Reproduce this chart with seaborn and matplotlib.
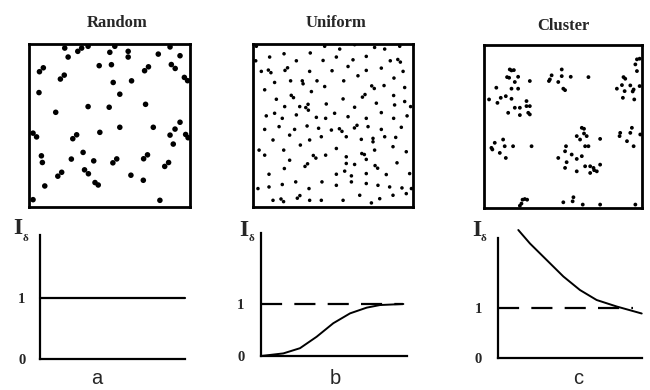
import matplotlib
matplotlib.use("Agg")
import matplotlib.pyplot as plt
import seaborn as sns
import pandas as pd

# ---------------- data ----------------
panel_titles = ["Random", "Uniform", "Cluster"]
panel_letters = ["a", "b", "c"]
index_label = "I"
index_sub = "δ"
tick_values = [0, 1]
tick_labels = ["0", "1"]

random_x = [22.2, 30.3, 32.7, 36.7, 53.3, 87.6, 24.3, 50.2, 61.6, 61.6, 80.3, 93.8,
            6.5, 8.9, 43.6, 51.2, 71.8, 74.2, 88.4, 90.8, 19.5, 21.9, 52.3, 63.7,
            96.5, 98.5, 6.2, 56.4, 36.7, 49.8, 72.4, 16.6, 2.5, 4.7, 44.0, 56.4,
            77.2, 93.8, 90.7, 87.6, 97.3, 98.8, 27.2, 29.6, 89.6, 33.6, 7.7, 8.3,
            26.3, 40.2, 52.1, 54.5, 71.2, 73.6, 84.3, 86.7, 17.9, 20.3, 34.5, 36.9,
            63.3, 71.0, 41.0, 43.0, 9.8, 2.5, 81.3]
random_y = [97.5, 95.5, 97.5, 98.6, 98.6, 98.2, 92.0, 94.9, 95.5, 92.0, 93.8, 92.8,
            83.0, 85.4, 86.7, 87.3, 83.6, 86.0, 87.4, 85.0, 78.5, 80.9, 76.4, 77.4,
            79.5, 77.5, 70.2, 69.2, 61.6, 61.2, 63.0, 58.1, 45.3, 43.0, 45.8, 48.9,
            48.9, 52.0, 47.8, 44.1, 44.5, 42.5, 41.9, 44.3, 38.6, 33.5, 31.4, 27.3,
            29.4, 28.3, 27.1, 29.5, 29.6, 32.0, 24.9, 27.3, 18.9, 21.3, 22.8, 20.4,
            19.5, 16.4, 15.0, 13.5, 12.9, 4.5, 4.1]

uniform_x = [2.1, 44.8, 54.2, 63.5, 76.0, 82.3, 91.7,
             10.4, 19.4, 35.8, 27.1, 43.8, 52.1, 62.5, 70.8, 85.8, 90.5, 92.1, 1.7,
             5.2, 9.6, 11.2, 20.0, 21.6, 35.4, 49.4, 59.4, 70.8, 80.2, 93.8,
             13.5, 23.5, 30.8, 31.3, 40.0, 44.8, 56.7, 65.6, 74.2, 75.8, 81.9, 88.1, 94.8,
             7.3, 23.9, 25.3, 36.5, 14.6, 56.3, 68.4, 70.0, 87.9,
             34.4, 19.8, 29.2, 45.8, 33.0, 34.6, 63.5, 77.1, 88.5, 94.8, 98.5,
             8.3, 13.5, 18.3, 27.1, 39.6, 45.4, 51.0, 59.4, 70.8, 80.2, 87.9, 96.3,
             7.3, 16.3, 26.0, 33.8, 41.0, 49.0, 54.0, 55.6, 63.4, 65.0, 71.9, 80.2, 92.7,
             12.5, 22.9, 35.4, 42.7, 58.3, 67.7, 75.0, 75.0, 82.3, 89.2,
             3.8, 19.2, 29.6, 52.1, 37.7, 39.3, 45.4, 58.3, 68.0, 69.6, 76.0, 87.5, 95.8,
             7.3, 22.9, 32.5, 34.1, 58.3, 63.5, 70.8, 76.3, 77.9, 90.0,
             10.0, 19.6, 52.1, 57.3, 61.5, 70.8, 83.3, 97.9,
             3.1, 10.0, 18.3, 26.7, 35.0, 43.1, 52.1, 61.5, 70.8, 78.1, 85.4, 93.1, 99.0,
             12.5, 17.5, 19.1, 27.7, 29.3, 35.4, 42.7, 56.3, 66.7, 74.0, 79.2, 87.5, 95.8]
uniform_y = [98.6, 98.6, 96.9, 99.6, 97.9, 96.9, 98.6,
             92.0, 94.0, 94.5, 89.7, 89.9, 92.0, 90.3, 92.4, 89.7, 90.5, 88.9, 89.7,
             83.2, 84.0, 82.4, 83.8, 85.4, 83.2, 83.6, 86.2, 83.8, 85.2, 83.2,
             76.4, 77.4, 77.4, 75.6, 77.4, 73.9, 77.4, 80.5, 74.3, 72.7, 74.5, 79.1, 73.3,
             71.9, 68.5, 67.1, 70.8, 66.1, 66.3, 67.4, 69.0, 68.4,
             63.0, 61.6, 61.6, 63.2, 61.0, 59.4, 61.2, 63.7, 62.6, 64.7, 61.6,
             55.9, 57.5, 54.4, 56.5, 55.0, 54.4, 57.5, 55.4, 54.4, 57.9, 54.4, 55.9,
             47.6, 49.3, 47.6, 49.7, 48.3, 47.2, 48.0, 46.4, 48.5, 50.1, 49.3, 47.6, 48.9,
             41.1, 44.1, 41.1, 43.1, 43.1, 41.5, 42.1, 40.0, 43.1, 42.7,
             34.9, 34.9, 38.0, 35.9, 31.6, 30.0, 31.8, 30.8, 32.8, 32.2, 34.9, 37.0, 33.9,
             31.8, 28.7, 24.9, 26.5, 26.7, 26.1, 29.2, 25.4, 23.8, 27.1,
             20.1, 23.6, 20.1, 22.0, 19.1, 20.5, 19.9, 20.5,
             11.3, 12.3, 13.8, 15.4, 11.3, 15.4, 13.3, 15.4, 14.4, 13.3, 12.3, 11.7, 11.3,
             4.1, 4.9, 3.3, 5.4, 7.0, 4.1, 4.1, 4.1, 7.2, 2.5, 5.1, 7.2, 8.2]

cluster_x = [16.3, 17.4, 18.9, 14.6, 15.9, 21.6, 19.5, 29.0, 7.8, 17.4, 21.6, 13.8,
             10.6, 17.4, 26.9, 29.0, 26.9, 22.7, 19.5, 15.3, 22.7, 28.0, 29.0, 8.5, 3.2,
             41.1, 41.7, 42.8, 49.2, 49.2, 47.0, 50.2, 51.3, 54.9, 66.1,
             96.8, 98.5, 95.8, 96.8, 88.3, 89.4, 87.3, 92.6, 94.7, 94.1, 89.0, 87.9,
             95.1, 98.5, 84.1,
             93.6, 92.6, 98.9, 86.2, 85.8, 90.5, 94.7,
             61.9, 63.3, 58.7, 63.3, 65.0, 60.8, 66.1, 64.0, 73.5, 51.9, 51.3, 47.0,
             55.5, 58.7, 61.9, 52.3, 51.3, 64.0, 67.2, 69.3, 73.5, 71.4, 69.7, 67.2, 58.7,
             4.7, 5.3, 6.8, 12.1, 13.1, 18.4, 10.0, 13.8, 30.1,
             24.4, 25.8, 27.3, 23.7, 22.7, 56.6, 56.1, 50.2, 62.5, 73.5, 95.8]
cluster_y = [85.0, 84.4, 84.6, 80.3, 79.9, 80.5, 77.3, 77.9, 73.8, 73.2, 73.2, 68.6,
             67.6, 67.0, 65.6, 62.5, 62.5, 61.5, 61.5, 58.4, 57.0, 58.4, 57.4, 64.5, 66.6,
             77.9, 78.9, 81.4, 85.0, 80.9, 77.3, 73.2, 72.3, 80.5, 80.3,
             91.2, 91.6, 88.1, 84.0, 80.3, 79.3, 75.4, 75.2, 72.7, 71.5, 71.7, 67.6,
             66.6, 74.8, 73.2,
             49.2, 46.1, 45.1, 46.1, 44.1, 41.0, 37.9,
             49.2, 48.6, 44.1, 45.7, 44.1, 42.0, 37.9, 37.9, 42.4, 37.9, 34.8, 30.7,
             32.8, 30.1, 31.8, 28.1, 24.6, 25.6, 25.6, 24.6, 26.6, 22.5, 23.2, 21.5, 22.5,
             36.9, 35.9, 40.0, 42.0, 37.9, 37.9, 33.8, 30.7, 37.9,
             5.1, 5.5, 5.1, 2.7, 1.4, 6.6, 4.1, 3.5, 2.1, 2.1, 2.1]

# index curves (distance fraction vs I_delta)
a_line_x = [0.0, 1.0]
a_line_y = [1.0, 1.0]
b_curve_x = [0.0, 0.153, 0.267, 0.381, 0.495, 0.61, 0.724, 0.815, 0.975]
b_curve_y = [0.0, 0.05, 0.15, 0.37, 0.63, 0.82, 0.93, 0.98, 1.0]
b_ref_x = [0.0, 0.975]
b_ref_y = [1.0, 1.0]
c_curve_x = [0.141, 0.222, 0.338, 0.454, 0.569, 0.685, 0.824, 0.998]
c_curve_y = [2.56, 2.29, 1.96, 1.63, 1.36, 1.16, 1.03, 0.89]
c_ref_x = [0.0, 0.94]
c_ref_y = [1.0, 1.0]

# ---------------- style ----------------
sns.set_theme(style="white")
plt.rcParams["font.family"] = ["Liberation Serif", "DejaVu Serif"]

W, H = 650, 390
fig = plt.figure(figsize=(6.5, 3.9), dpi=100)
fig.patch.set_facecolor("white")


def fx(px):
    return px / W


def fy(py):
    return 1 - py / H


# ---------------- top: point patterns ----------------
top_boxes = [(29, 44, 190, 207), (253, 44, 413, 207), (484, 45, 642, 208)]
top_data = [(random_x, random_y, 16), (uniform_x, uniform_y, 6.5), (cluster_x, cluster_y, 7.5)]
title_pos = [(117, 27), (336, 27), (563, 30)]

for (x0, y0, x1, y1), (xs, ys, s), title, (tx, ty) in zip(top_boxes, top_data, panel_titles, title_pos):
    ax = fig.add_axes([fx(x0), fy(y1), (x1 - x0) / W, (y1 - y0) / H])
    df = pd.DataFrame({"x": xs, "y": ys})
    sns.scatterplot(data=df, x="x", y="y", ax=ax, color="black", s=s,
                    edgecolor="none", linewidth=0, legend=False)
    ax.set_xlim(0, 100)
    ax.set_ylim(0, 100)
    ax.set_xticks([])
    ax.set_yticks([])
    ax.set_xlabel("")
    ax.set_ylabel("")
    for sp in ax.spines.values():
        sp.set_visible(True)
        sp.set_color("black")
        sp.set_linewidth(2.0)
    ax.set_facecolor("white")
    fig.text(fx(tx), fy(ty), title, ha="center", va="baseline", fontsize=12,
             fontweight="bold", family=["Liberation Serif", "DejaVu Serif"])

# ---------------- bottom: index curves ----------------
bot_axes = [
    dict(x0=40, x1=185, y0=359, y1=298, top=235, ltop=235, pad=10.5,
         I=(18, 229), d=(25.5, 238), L=(97, 384)),
    dict(x0=261, x1=407, y0=356, y1=304, top=233, ltop=233, pad=12.0,
         I=(244, 230), d=(251, 238), L=(335, 384)),
    dict(x0=498, x1=642, y0=358, y1=308, top=226, ltop=238, pad=11.5,
         I=(477, 230), d=(484, 238), L=(578, 384)),
]

axes_b = []
for cfg in bot_axes:
    unit = cfg["y0"] - cfg["y1"]
    ax = fig.add_axes([fx(cfg["x0"]), fy(cfg["y0"]), (cfg["x1"] - cfg["x0"]) / W,
                       (cfg["y0"] - cfg["top"]) / H])
    ax.set_facecolor("none")
    ax.set_xlim(0, 1)
    ax.set_ylim(0, (cfg["y0"] - cfg["top"]) / unit)
    for side in ["top", "right"]:
        ax.spines[side].set_visible(False)
    for side in ["left", "bottom"]:
        ax.spines[side].set_visible(True)
        ax.spines[side].set_color("black")
        ax.spines[side].set_linewidth(1.6)
    ax.spines["left"].set_bounds(0, (cfg["y0"] - cfg["ltop"]) / unit)
    ax.set_xticks([])
    ax.set_yticks(tick_values)
    ax.set_yticklabels(tick_labels, fontsize=10.5, fontweight="bold")
    ax.tick_params(axis="y", length=0, pad=cfg["pad"])
    axes_b.append(ax)
    fig.text(fx(cfg["I"][0]), fy(cfg["I"][1]), index_label, ha="center", va="center",
             fontsize=17, fontweight="bold", family=["Liberation Serif", "DejaVu Serif"])
    fig.text(fx(cfg["d"][0]), fy(cfg["d"][1]), index_sub, ha="center", va="center",
             fontsize=8, fontweight="bold", family=["Liberation Serif", "DejaVu Serif"])

for ax, letter, cfg in zip(axes_b, panel_letters, bot_axes):
    fig.text(fx(cfg["L"][0]), fy(cfg["L"][1]), letter, ha="center", va="baseline",
             fontsize=14.5, family=["Liberation Sans", "DejaVu Sans"])

ax_a, ax_b, ax_c = axes_b
sns.lineplot(x=a_line_x, y=a_line_y, ax=ax_a, color="black", linewidth=1.6)
sns.lineplot(x=b_ref_x, y=b_ref_y, ax=ax_b, color="black", linewidth=1.6,
             dashes=False).lines[-1].set_dashes((9.5, 5.5))
sns.lineplot(x=b_curve_x, y=b_curve_y, ax=ax_b, color="black", linewidth=1.4, sort=False)
sns.lineplot(x=c_ref_x, y=c_ref_y, ax=ax_c, color="black", linewidth=1.6,
             dashes=False).lines[-1].set_dashes((9.5, 5.5))
sns.lineplot(x=c_curve_x, y=c_curve_y, ax=ax_c, color="black", linewidth=1.4, sort=False)
for ax in axes_b:
    ax.set_xlabel("")
    ax.set_ylabel("")
    for ln in ax.lines:
        ln.set_clip_on(False)

fig.savefig("out.png", dpi=100, facecolor="white")
